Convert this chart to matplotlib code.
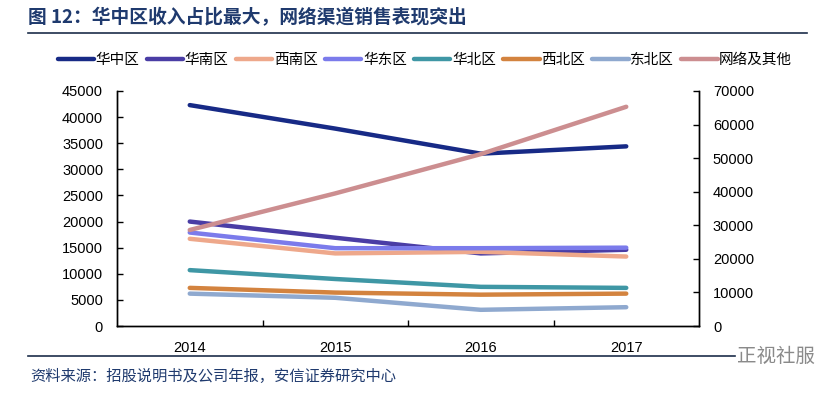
import numpy as np
import matplotlib
matplotlib.use("Agg")
import matplotlib.pyplot as plt
from matplotlib.lines import Line2D

plt.rcParams['font.family'] = ['Liberation Sans', 'Noto Sans CJK SC', 'DejaVu Sans']

# 数据
years = ['2014', '2015', '2016', '2017']
huazhong = [42300, 37800, 33000, 34400]
huanan = [20000, 16900, 13900, 14600]
xinan = [16700, 13900, 14200, 13300]
huadong = [17900, 14900, 14900, 15000]
huabei = [10700, 9000, 7500, 7300]
xibei = [7300, 6400, 6000, 6200]
dongbei = [6200, 5400, 3100, 3600]
wangluo = [28600, 39500, 51200, 65300]   # 右轴

left_series = [
    ('华中区', huazhong, '#172A86'),
    ('华南区', huanan, '#4A3DA5'),
    ('西南区', xinan, '#EEA88B'),
    ('华东区', huadong, '#7B7BEB'),
    ('华北区', huabei, '#3F97A5'),
    ('西北区', xibei, '#D3833F'),
    ('东北区', dongbei, '#8FA9CF'),
]
right_series = ('网络及其他', wangluo, '#CC8E90')

navy = '#1F3A6E'
cjk = ['Noto Sans CJK SC', 'DejaVu Sans']

fig = plt.figure(figsize=(8.39, 3.95), dpi=100)
ax = fig.add_axes([117/839, 1-326/395, (699-117)/839, (326-91)/395])
ax2 = ax.twinx()

x = np.arange(len(years))
handles = []
for name, vals, col in left_series:
    h, = ax.plot(x, vals, color=col, lw=3.2, solid_capstyle='round', label=name)
    handles.append(h)
name, vals, col = right_series
h, = ax2.plot(x, vals, color=col, lw=3.2, solid_capstyle='round', label=name)
handles.append(h)

ax.set_xlim(-0.5, 3.5)
ax.set_ylim(0, 45000)
ax.set_yticks(np.arange(0, 45001, 5000))
ax2.set_ylim(0, 70000)
ax2.set_yticks(np.arange(0, 70001, 10000))

ax.set_xticks(x)
ax.set_xticklabels(years)
ax.set_xticks([0.5, 1.5, 2.5], minor=True)
ax.tick_params(axis='x', which='major', length=0, pad=11, labelsize=10.5)
ax.tick_params(axis='x', which='minor', direction='in', length=4, width=1)
ax.tick_params(axis='y', direction='in', length=4, width=1, pad=10, labelsize=10.5)
ax2.tick_params(axis='y', direction='in', length=4, width=1, pad=10, labelsize=10.5)

for a in (ax, ax2):
    a.spines['top'].set_visible(False)
    for s in ('left', 'right', 'bottom'):
        a.spines[s].set_linewidth(1)
        a.spines[s].set_color('black')

leg = fig.legend(handles=handles, loc='center', bbox_to_anchor=(425/839, 1-60/395),
                 ncol=8, frameon=False, handlelength=2.5, handletextpad=0.1,
                 columnspacing=0.5, prop={'family': cjk, 'size': 10.5})

# 标题与分隔线
fig.text(28/839, 1-18/395, '图 12：华中区收入占比最大，网络渠道销售表现突出',
         fontsize=13.5, fontweight='bold', color=navy, va='center', ha='left', family=cjk)
fig.add_artist(Line2D([28/839, 807/839], [1-33/395, 1-33/395], color='#1C2E4A', lw=1.2))
fig.add_artist(Line2D([28/839, 735/839], [1-356/395, 1-356/395], color='#1C2E4A', lw=1.2))

fig.text(30/839, 1-376/395, '资料来源：招股说明书及公司年报，安信证券研究中心',
         fontsize=11, color=navy, style='italic', va='center', ha='left', family=cjk)
fig.text(815/839, 1-356/395, '正视社服', fontsize=14, color='#8A8A8A',
         va='center', ha='right', family=cjk)

fig.savefig('out.png', dpi=100)
